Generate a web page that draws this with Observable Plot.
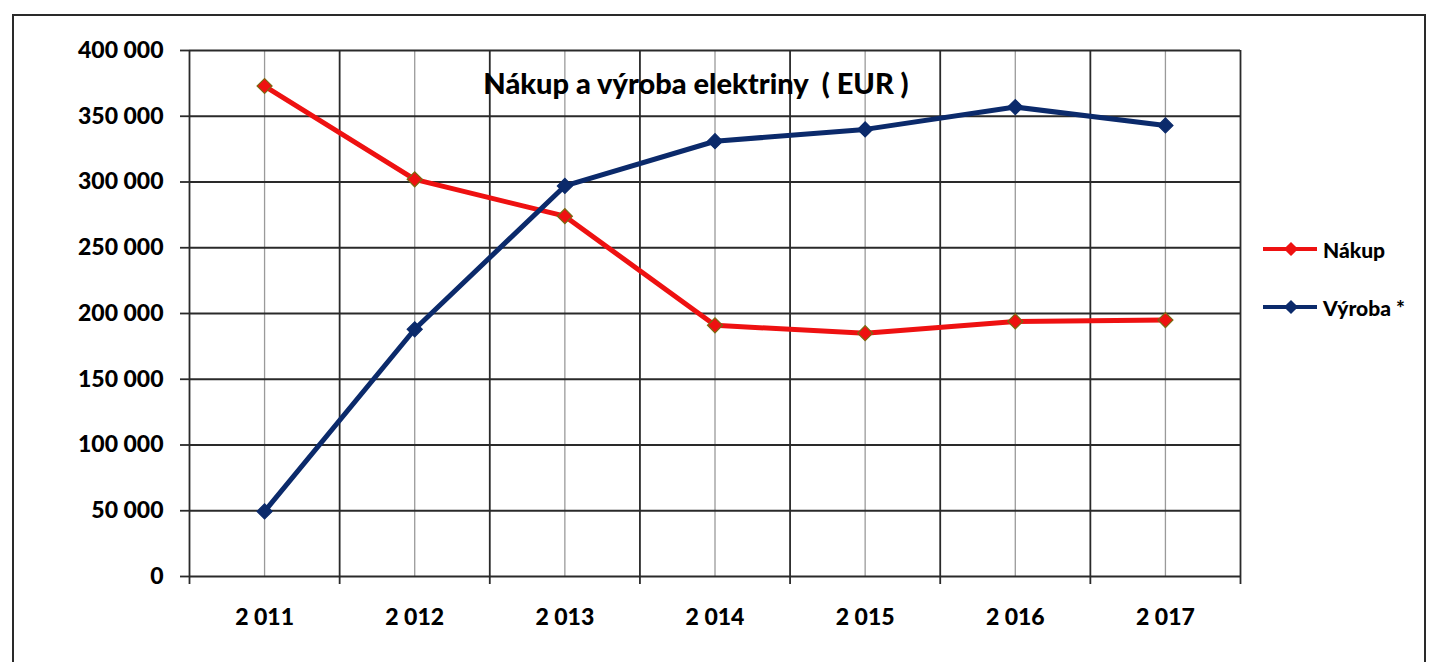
<!DOCTYPE html>
<html>
<head>
<meta charset="utf-8">
<script src="https://cdn.jsdelivr.net/npm/d3@7"></script>
<script src="https://cdn.jsdelivr.net/npm/@observablehq/plot@0.6"></script>
<style>
  html, body { margin: 0; padding: 0; background: #fff; width: 1435px; height: 662px; overflow: hidden; }
  #wrap { position: relative; width: 1435px; height: 662px; font-family: Lato, "Open Sans", sans-serif; }
  #frame { position: absolute; left: 12px; top: 14px; width: 1414px; height: 680px; border: 2px solid #2a2a2a; box-sizing: border-box; }
  #chart { position: absolute; left: 0; top: 0; }
  #legend { position: absolute; left: 1263px; top: 233px; font-family: Lato, sans-serif; font-weight: 900; font-size: 21px; color: #000; }
  .item { display: flex; align-items: center; height: 32px; margin-bottom: 26px; }
  .item svg { margin-right: 4px; }
  .title { white-space: pre; }
</style>
</head>
<body>
<div id="wrap">
  <div id="frame"></div>
  <div id="chart"></div>
  <div id="legend"></div>
</div>
<script>
const years = [2011, 2012, 2013, 2014, 2015, 2016, 2017];
const nakup = [373000, 302000, 274000, 191000, 185000, 194000, 195000];
const vyroba = [49500, 188000, 297000, 331000, 340000, 357000, 343000];
const yTicks = [0, 50000, 100000, 150000, 200000, 250000, 300000, 350000, 400000];
const seriesNames = ["Nákup", "Výroba *"];
const seriesColors = ["#ee1111", "#0b2a6b"];
const markerStroke = ["#7a6a10", "#0b2a6b"];
const titleText = "Nákup a výroba elektriny  ( EUR )";

const boundaries = years.map(y => y - 0.5).concat([years[years.length - 1] + 0.5]);
const fmt = d => d3.format(",")(d).replace(/,/g, " ");

const rows = [];
years.forEach((yr, i) => {
  rows.push({year: yr, value: nakup[i], series: seriesNames[0]});
  rows.push({year: yr, value: vyroba[i], series: seriesNames[1]});
});
const nak = rows.filter(d => d.series === seriesNames[0]);
const vyr = rows.filter(d => d.series === seriesNames[1]);

const chart = Plot.plot({
  width: 1435,
  height: 662,
  marginLeft: 189,
  marginRight: 195,
  marginTop: 50,
  marginBottom: 86,
  style: {fontFamily: "Lato, sans-serif", fontWeight: 900, fontSize: "23px", color: "#000", background: "transparent", overflow: "visible"},
  x: {type: "linear", domain: [boundaries[0], boundaries[boundaries.length - 1]]},
  y: {domain: [0, 400000]},
  marks: [
    Plot.ruleX(years, {stroke: "#9a9a9a", strokeWidth: 1.3}),
    Plot.ruleY(yTicks, {stroke: "#2a2a2a", strokeWidth: 1.8}),
    Plot.ruleX(boundaries, {stroke: "#2a2a2a", strokeWidth: 1.8}),
    Plot.axisY({ticks: yTicks, tickFormat: fmt, tickSize: 9, tickPadding: 17, stroke: "#2a2a2a", strokeWidth: 1.8, label: null, fontSize: 23, fontWeight: 900}),
    Plot.axisX({ticks: boundaries, tickFormat: () => "", tickSize: 8, stroke: "#2a2a2a", strokeWidth: 1.8, label: null}),
    Plot.axisX({ticks: years, tickFormat: fmt, tickSize: 0, tickPadding: 32, label: null, fontSize: 23, fontWeight: 900}),
    Plot.text([titleText], {frameAnchor: "top", dx: -19, dy: 23, fontSize: 29, fontWeight: 900, fill: "#000", className: "title"}),
    Plot.line(nak, {x: "year", y: "value", stroke: seriesColors[0], strokeWidth: 5, strokeLinejoin: "round"}),
    Plot.line(vyr, {x: "year", y: "value", stroke: seriesColors[1], strokeWidth: 5, strokeLinejoin: "round"}),
    Plot.dot(nak, {x: "year", y: "value", symbol: "square", rotate: 45, r: 6, fill: seriesColors[0], stroke: markerStroke[0], strokeWidth: 1.2}),
    Plot.dot(vyr, {x: "year", y: "value", symbol: "square", rotate: 45, r: 6, fill: seriesColors[1], stroke: markerStroke[1], strokeWidth: 1.2})
  ]
});
document.getElementById("chart").appendChild(chart);

const legend = document.getElementById("legend");
seriesNames.forEach((name, i) => {
  const item = document.createElement("div");
  item.className = "item";
  item.innerHTML = `<svg width="56" height="16" viewBox="0 0 56 16">
    <line x1="0" y1="8" x2="54" y2="8" stroke="${seriesColors[i]}" stroke-width="4"/>
    <rect x="23" y="3" width="10" height="10" fill="${seriesColors[i]}" transform="rotate(45 28 8)"/>
  </svg><span>${name}</span>`;
  legend.appendChild(item);
});
</script>
</body>
</html>
